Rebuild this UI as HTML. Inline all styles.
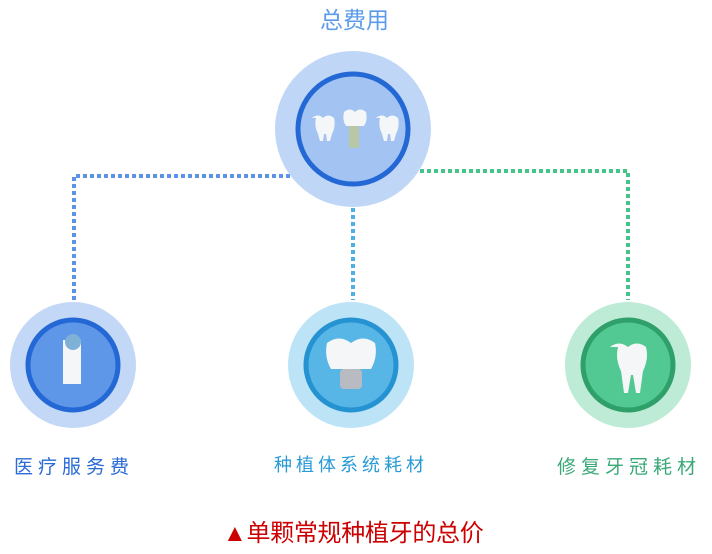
<!DOCTYPE html>
<html><head><meta charset="utf-8"><style>
body{margin:0;width:712px;height:554px;background:#fff;position:relative;overflow:hidden;font-family:"Liberation Sans","Noto Sans CJK SC",sans-serif}
.t{position:absolute;white-space:nowrap;line-height:1}
</style></head><body>
<svg width="712" height="554" style="position:absolute;left:0;top:0">
<g fill="none" stroke-width="4" stroke-dasharray="4 3">
<path d="M290 176 H74 V300" stroke="#5b93e6"/>
<path d="M353 208 V300" stroke="#4fb0e6"/>
<path d="M420 171 H628 V300" stroke="#45c48a"/>
</g>
<circle cx="353" cy="129" r="78" fill="#bfd6f6"/>
<circle cx="353" cy="129" r="55" fill="#a3c4f2" stroke="#2468d6" stroke-width="5"/>
<circle cx="73" cy="365" r="63" fill="#c3d7f6"/>
<circle cx="73" cy="365" r="45" fill="#5e96e8" stroke="#2468d6" stroke-width="5"/>
<circle cx="351" cy="365" r="63" fill="#bde3f6"/>
<circle cx="351" cy="365" r="45" fill="#58b6e6" stroke="#2592d2" stroke-width="5"/>
<circle cx="628" cy="365" r="63" fill="#bdebd6"/>
<circle cx="628" cy="365" r="45" fill="#52c892" stroke="#2fa06a" stroke-width="5"/>
<g fill="#f4f6f8">
<path d="M312 118 q6-5 11 0 q5-5 11 0 q2 8-2 16 l-2 7 h-3 l-1-7 h-2 l-1 7 h-3 l-2-7 q-4-8-2-16z"/>
<path d="M344 112 q6-5 11 0 q5-5 11 0 q2 8-2 14 h-18 q-4-6-2-14z"/>
<path d="M376 118 q6-5 11 0 q5-5 11 0 q2 8-2 16 l-2 7 h-3 l-1-7 h-2 l-1 7 h-3 l-2-7 q-4-8-2-16z"/>
<path d="M327 343 q12-9 24 0 q12-9 24 0 q3 14-4 26 h-40 q-7-12-4-26z"/>
<path d="M610 347 q9-7 18 0 q9-7 18 0 q3 12-3 24 l-3 22 h-4 l-3-18 h-2 l-3 18 h-4 l-3-22 q-6-12-3-24z"/>
</g>
<rect x="349" y="126" width="10" height="22" fill="#b8c7a6"/>
<rect x="340" y="369" width="22" height="20" rx="4" fill="#b8bcc2"/>
<rect x="63" y="340" width="18" height="44" fill="#f4f6f8"/>
<circle cx="73" cy="342" r="8" fill="#7fb0d6"/>
</svg>
<div class="t" style="left:320px;top:9px;font-size:23px;color:#5b9bea">总费用</div>
<div class="t" style="left:14px;top:458px;font-size:19px;letter-spacing:5px;color:#2a6bd6">医疗服务费</div>
<div class="t" style="left:274px;top:456px;font-size:18px;letter-spacing:4px;color:#2a9ad6">种植体系统耗材</div>
<div class="t" style="left:557px;top:458px;font-size:19px;letter-spacing:5px;color:#3aa877">修复牙冠耗材</div>
<div class="t" style="left:223px;top:522px;font-size:24px;color:#cc0000;letter-spacing:-0.3px">▲单颗常规种植牙的总价</div>
</body></html>
